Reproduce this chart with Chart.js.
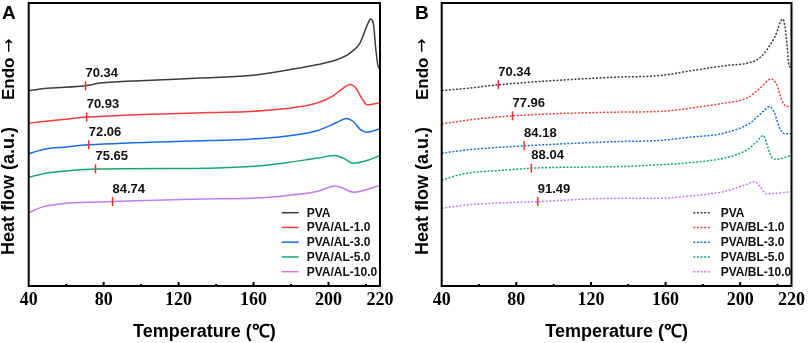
<!DOCTYPE html>
<html><head><meta charset="utf-8">
<script src="https://cdn.jsdelivr.net/npm/chart.js@4.4.1/dist/chart.umd.min.js"></script>
<style>
html,body{margin:0;padding:0;background:#fff;}
#wrap{position:relative;width:809px;height:343px;overflow:hidden;background:#fff;}
canvas{position:absolute;top:0;}
</style></head><body>
<div id="wrap">
<canvas id="cA" width="405" height="343" style="left:0px"></canvas>
<canvas id="cB" width="404" height="343" style="left:405px"></canvas>
</div>
<script>
// ---------- data ----------
const X_MIN = 40, X_MAX = 227.5;
const TICK_VALUES = [40, 60, 80, 100, 120, 140, 160, 180, 200, 220, X_MAX];
const TICK_LABELS = ['40', '', '80', '', '120', '', '160', '', '200', '', '220'];
const X_TITLE = 'Temperature (\u2103)';
const Y_TITLE = 'Heat flow (a.u.)';
const Y_ENDO = 'Endo';
const Y_ARROW = '\u2192';
const COLORS = ['#3c3c3c', '#f53b3b', '#1c6be0', '#13a86b', '#c27cf2'];

const seriesA = ['PVA', 'PVA/AL-1.0', 'PVA/AL-3.0', 'PVA/AL-5.0', 'PVA/AL-10.0'];
const seriesB = ['PVA', 'PVA/BL-1.0', 'PVA/BL-3.0', 'PVA/BL-5.0', 'PVA/BL-10.0'];
const tgA = [70.34, 70.93, 72.06, 75.65, 84.74];
const tgB = [70.34, 77.96, 84.18, 88.04, 91.49];

// Panel A (temperature in deg C, heat flow in a.u.)
const tA_PVA  = [40, 51.4, 70.3, 78, 102.4, 131.4, 158.1, 175.9, 193.7, 204.4, 211.5, 216.8, 220.4, 222.5, 223.9, 225.3, 226.5, 227.5];
const hA_PVA  = [195.3, 197.7, 200, 202.7, 205.3, 207.7, 210.3, 215, 221, 226, 232.7, 242.7, 259.3, 266.7, 262.7, 236, 219.3, 217];
const tA_AL1  = [40, 56.7, 70.9, 136.7, 158.1, 175.9, 193.7, 202.5, 207.9, 211.5, 214.2, 217.7, 220.7, 223.9, 227.5];
const hA_AL1  = [162.7, 166, 168.7, 173.3, 174.3, 177, 182.7, 190, 197.7, 201.3, 198.7, 187.7, 181, 181.7, 183];
const tA_AL3  = [40, 45, 51.4, 56.7, 72.1, 136.7, 158.1, 175.9, 193.7, 204.4, 209.7, 213.2, 216.8, 220.4, 227.5];
const hA_AL3  = [132, 135, 137.5, 138.3, 141, 145.3, 146.7, 149.3, 155, 163.3, 167.3, 164.3, 156.7, 153.7, 157];
const tA_AL5  = [40, 51.4, 56.7, 75.7, 136.7, 158.1, 175.9, 193.7, 203.5, 207.9, 213.2, 220.4, 227.5];
const hA_AL5  = [108.7, 113.3, 114.3, 117, 117.7, 119.3, 122.7, 127.7, 130.3, 127.7, 122.7, 125.3, 130.3];
const tA_AL10 = [40, 47.8, 60.3, 84.7, 131.4, 158.1, 175.9, 193.7, 203.5, 207.9, 213.2, 227.5];
const hA_AL10 = [73.3, 79.3, 82.7, 84.3, 87, 87.7, 90, 94.3, 100, 97.7, 93.7, 100.3];

// Panel B
const tB_PVA  = [40, 55, 70.3, 134.6, 155.9, 173.5, 191.3, 209, 214.3, 218.7, 222.8, 224, 225.2, 226.1, 227.5];
const hB_PVA  = [195.3, 197.7, 201, 208.7, 210, 215, 220, 226, 236, 249.3, 266.7, 259.3, 239.3, 221, 218];
const tB_BL1  = [40, 55, 78, 134.6, 155.9, 173.5, 191.3, 203.6, 210.7, 216.5, 219.6, 222.2, 224.9, 227.5];
const hB_BL1  = [162, 166, 170, 173.7, 174.3, 177.7, 182.7, 187.7, 197.7, 206.7, 201, 186, 179.3, 180];
const tB_BL3  = [40, 53.3, 84.2, 134.6, 155.9, 173.5, 191.3, 205.2, 212.3, 215.8, 218.4, 221.1, 223.8, 227.5];
const hB_BL3  = [132.7, 136, 140, 144.3, 145.3, 148.7, 152.7, 162.7, 174.3, 179.3, 172.7, 157.7, 152, 152];
const tB_BL5  = [40, 53.3, 70.6, 88, 134.6, 155.9, 173.5, 191.3, 203.6, 208.9, 212.4, 214.7, 216.8, 219.6, 227.5];
const hB_BL5  = [106, 112.7, 115.3, 117.7, 119.3, 121, 123.3, 127.7, 136, 144.3, 150.3, 139.3, 128.7, 126.7, 130.5];
const tB_BL10 = [40, 53.3, 91.5, 134.6, 155.9, 173.5, 191.3, 202.6, 207.9, 210.6, 214.1, 227.5];
const hB_BL10 = [77.7, 81, 84.3, 87.7, 87.7, 90, 94.3, 101, 104.3, 99.3, 92, 94.3];

// ---------- panels ----------
const panelA = {
  letter: 'A', series: seriesA, tg: tgA,
  temps: [tA_PVA, tA_AL1, tA_AL3, tA_AL5, tA_AL10],
  flows: [hA_PVA, hA_AL1, hA_AL3, hA_AL5, hA_AL10],
  dash: [], pad: {left: 28.7, right: 25},
  titleX: 9.5, letterX: 2, legX: 281.7, legTextX: 306.7
};
const panelB = {
  letter: 'B', series: seriesB, tg: tgB,
  temps: [tB_PVA, tB_BL1, tB_BL3, tB_BL5, tB_BL10],
  flows: [hB_PVA, hB_BL1, hB_BL3, hB_BL5, hB_BL10],
  dash: [2, 1.6], pad: {left: 36.7, right: 14},
  titleX: 18, letterX: 10, legX: 288.3, legTextX: 315.7
};

function interp(xs, ys, t) {
  for (let i = 0; i < xs.length - 1; i++) {
    if (t >= xs[i] && t <= xs[i + 1]) {
      const f = (t - xs[i]) / (xs[i + 1] - xs[i]);
      return ys[i] + f * (ys[i + 1] - ys[i]);
    }
  }
  return ys[ys.length - 1];
}

const SANS = '"Liberation Sans", Arial, Helvetica, sans-serif';
const SERIF = '"Liberation Serif", "Times New Roman", serif';

const decor = {
  id: 'decor',
  afterDraw(chart) {
    const p = chart.$panel;
    const {ctx, chartArea: {left, right, top, bottom}, scales: {x, y}} = chart;
    ctx.save();
    // inner ticks
    ctx.strokeStyle = '#000';
    ctx.lineWidth = 2;
    TICK_VALUES.forEach(v => {
      if (v <= X_MIN || v >= X_MAX) return;
      const px = x.getPixelForValue(v);
      const len = ((v - X_MIN) % 40 === 0) ? 4 : 2;
      ctx.beginPath(); ctx.moveTo(px, bottom); ctx.lineTo(px, bottom - len); ctx.stroke();
    });
    // frame
    ctx.lineWidth = 2;
    ctx.strokeRect(left, top, right - left, bottom - top);
    // Tg markers and labels
    p.series.forEach((s, i) => {
      const t = p.tg[i];
      const v = interp(p.temps[i], p.flows[i], t);
      const px = x.getPixelForValue(t), py = y.getPixelForValue(v);
      ctx.strokeStyle = '#f03030'; ctx.lineWidth = 1.5; ctx.setLineDash([]);
      ctx.beginPath(); ctx.moveTo(px, py - 4.5); ctx.lineTo(px, py + 4.5); ctx.stroke();
      ctx.fillStyle = '#111';
      ctx.font = 'bold 13px ' + SANS;
      ctx.textAlign = 'left'; ctx.textBaseline = 'alphabetic';
      ctx.fillText(t.toFixed(2), px, py - 9);
    });
    // legend
    p.series.forEach((s, i) => {
      const ry = 212.7 + i * 14.75;
      ctx.strokeStyle = COLORS[i]; ctx.lineWidth = 1.5; ctx.setLineDash(p.dash);
      ctx.beginPath(); ctx.moveTo(p.legX, ry); ctx.lineTo(p.legX + 17, ry); ctx.stroke();
      ctx.setLineDash([]);
      ctx.fillStyle = '#111';
      ctx.font = 'bold 12px ' + SANS;
      ctx.textAlign = 'left'; ctx.textBaseline = 'middle';
      ctx.fillText(s, p.legTextX, ry + 0.5);
    });
    // y title
    ctx.save();
    ctx.translate(p.titleX, 0);
    ctx.rotate(-Math.PI / 2);
    ctx.fillStyle = '#000';
    ctx.textAlign = 'left'; ctx.textBaseline = 'middle';
    ctx.font = 'bold 18px ' + SANS;
    ctx.fillText(Y_TITLE, -255, 0);
    ctx.font = 'bold 17px ' + SANS;
    ctx.fillText(Y_ENDO, -100, 0);
    const wEndo = ctx.measureText(Y_ENDO + ' ').width;
    ctx.font = '17px "DejaVu Sans", sans-serif';
    ctx.fillText(Y_ARROW, -100 + wEndo, 0);
    ctx.restore();
    // panel letter
    ctx.fillStyle = '#000';
    ctx.font = 'bold 19px ' + SANS;
    ctx.textAlign = 'left'; ctx.textBaseline = 'alphabetic';
    ctx.fillText(p.letter, p.letterX, 18.5);
    ctx.restore();
  }
};

function makeChart(id, p) {
  const datasets = p.series.map((s, i) => ({
    label: s,
    data: p.temps[i].map((t, j) => ({x: t, y: p.flows[i][j]})),
    borderColor: COLORS[i], backgroundColor: COLORS[i],
    borderWidth: 1.5, borderDash: p.dash,
    pointRadius: 0, cubicInterpolationMode: 'monotone', fill: false
  }));
  const chart = new Chart(document.getElementById(id), {
    type: 'line',
    data: {datasets},
    options: {
      responsive: false, animation: false, events: [],
      layout: {padding: {left: p.pad.left, right: p.pad.right, top: 3, bottom: 0}},
      plugins: {legend: {display: false}, tooltip: {enabled: false}},
      scales: {
        x: {
          type: 'linear', min: X_MIN, max: X_MAX,
          grid: {display: false, drawTicks: false},
          border: {display: false},
          afterBuildTicks: sc => { sc.ticks = TICK_VALUES.map(v => ({value: v})); },
          afterFit: sc => { sc.height = 57; },
          ticks: {
            autoSkip: false, maxRotation: 0, minRotation: 0, padding: 4, color: '#000',
            font: {family: SERIF, weight: 'bold', size: 18},
            callback: (v) => { const k = TICK_VALUES.indexOf(v); return k >= 0 ? TICK_LABELS[k] : ''; }
          },
          title: {display: true, text: X_TITLE, color: '#000', padding: {top: 0, bottom: 0},
                  font: {family: SANS, weight: 'bold', size: 18}}
        },
        y: {type: 'linear', display: false, min: 0, max: 282.7}
      }
    },
    plugins: [{id: 'panelRef', beforeInit(c) { c.$panel = p; }}, decor]
  });
  return chart;
}

makeChart('cA', panelA);
makeChart('cB', panelB);
</script>
</body></html>
